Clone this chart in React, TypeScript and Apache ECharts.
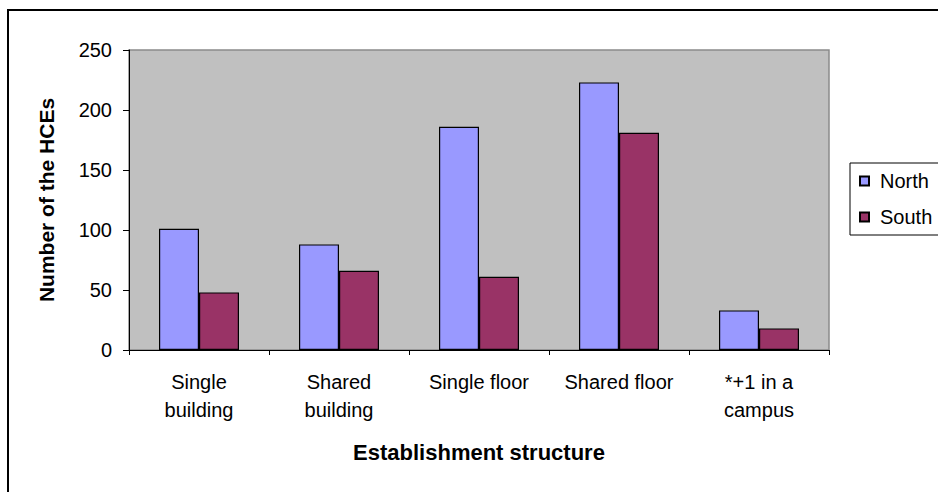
import React, { useEffect, useRef } from "react";
import * as echarts from "echarts";

// Establishment structure of the HCEs by region
const categories = [
  "Single\nbuilding",
  "Shared\nbuilding",
  "Single floor",
  "Shared floor",
  "*+1 in a\ncampus",
];
const northValues = [101, 88, 186, 223, 33];
const southValues = [48, 66, 61, 181, 18];
const yTicks = { min: 0, max: 250, interval: 50 };

const FONT = "'Liberation Sans', Arial, Helvetica, sans-serif";

export default function App() {
  const ref = useRef<HTMLDivElement>(null);

  useEffect(() => {
    if (!ref.current) return;
    const chart = echarts.init(ref.current, undefined, { renderer: "svg" });

    const barBorder = { borderColor: "#000000", borderWidth: 1.2 };

    chart.setOption({
      animation: false,
      backgroundColor: "#ffffff",
      textStyle: { fontFamily: FONT, color: "#000" },
      graphic: [
        {
          type: "rect",
          shape: { x: 8, y: 10, width: 1000, height: 600 },
          style: { fill: "none", stroke: "#000", lineWidth: 2 },
          silent: true,
          z: -10,
        },
      ],
      grid: {
        left: 129,
        right: 109,
        top: 50,
        bottom: 142,
        show: true,
        backgroundColor: "#C0C0C0",
        borderColor: "#8a8a8a",
        borderWidth: 1.5,
      },
      legend: {
        orient: "vertical",
        left: 850,
        top: 163,
        icon: "rect",
        itemWidth: 9,
        itemHeight: 9,
        itemGap: 16,
        padding: [8, 12, 8, 9],
        backgroundColor: "#ffffff",
        borderColor: "#000000",
        borderWidth: 1,
        textStyle: {
          fontFamily: FONT,
          fontSize: 20,
          color: "#000",
          padding: [0, 0, 0, 6],
        },
        data: ["North", "South"],
      },
      xAxis: {
        type: "category",
        data: categories,
        name: "Establishment structure",
        nameLocation: "middle",
        nameGap: 91,
        nameTextStyle: {
          fontFamily: FONT,
          fontSize: 22,
          fontWeight: "bold",
          color: "#000",
        },
        axisLine: { lineStyle: { color: "#000", width: 1 } },
        axisTick: { show: true, length: 5, lineStyle: { color: "#000" } },
        axisLabel: {
          fontFamily: FONT,
          fontSize: 20,
          lineHeight: 28,
          color: "#000",
          margin: 18,
          interval: 0,
        },
        splitLine: { show: false },
      },
      yAxis: {
        type: "value",
        min: yTicks.min,
        max: yTicks.max,
        interval: yTicks.interval,
        name: "Number of the HCEs",
        nameLocation: "middle",
        nameRotate: 90,
        nameGap: 72,
        nameTextStyle: {
          fontFamily: FONT,
          fontSize: 21,
          fontWeight: "bold",
          color: "#000",
        },
        axisLine: { show: true, lineStyle: { color: "#000", width: 1 } },
        axisTick: { show: true, length: 6, lineStyle: { color: "#000" } },
        axisLabel: {
          fontFamily: FONT,
          fontSize: 20,
          color: "#000",
          margin: 17,
        },
        splitLine: { show: false },
      },
      series: [
        {
          name: "North",
          type: "bar",
          data: northValues,
          barWidth: 40,
          barGap: "0%",
          itemStyle: { color: "#9999FF", ...barBorder },
        },
        {
          name: "South",
          type: "bar",
          data: southValues,
          barWidth: 40,
          barGap: "0%",
          itemStyle: { color: "#993366", ...barBorder },
        },
      ],
    });

    return () => chart.dispose();
  }, []);

  return (
    <div
      ref={ref}
      style={{ position: "absolute", left: 0, top: 0, width: 938, height: 492 }}
    />
  );
}
